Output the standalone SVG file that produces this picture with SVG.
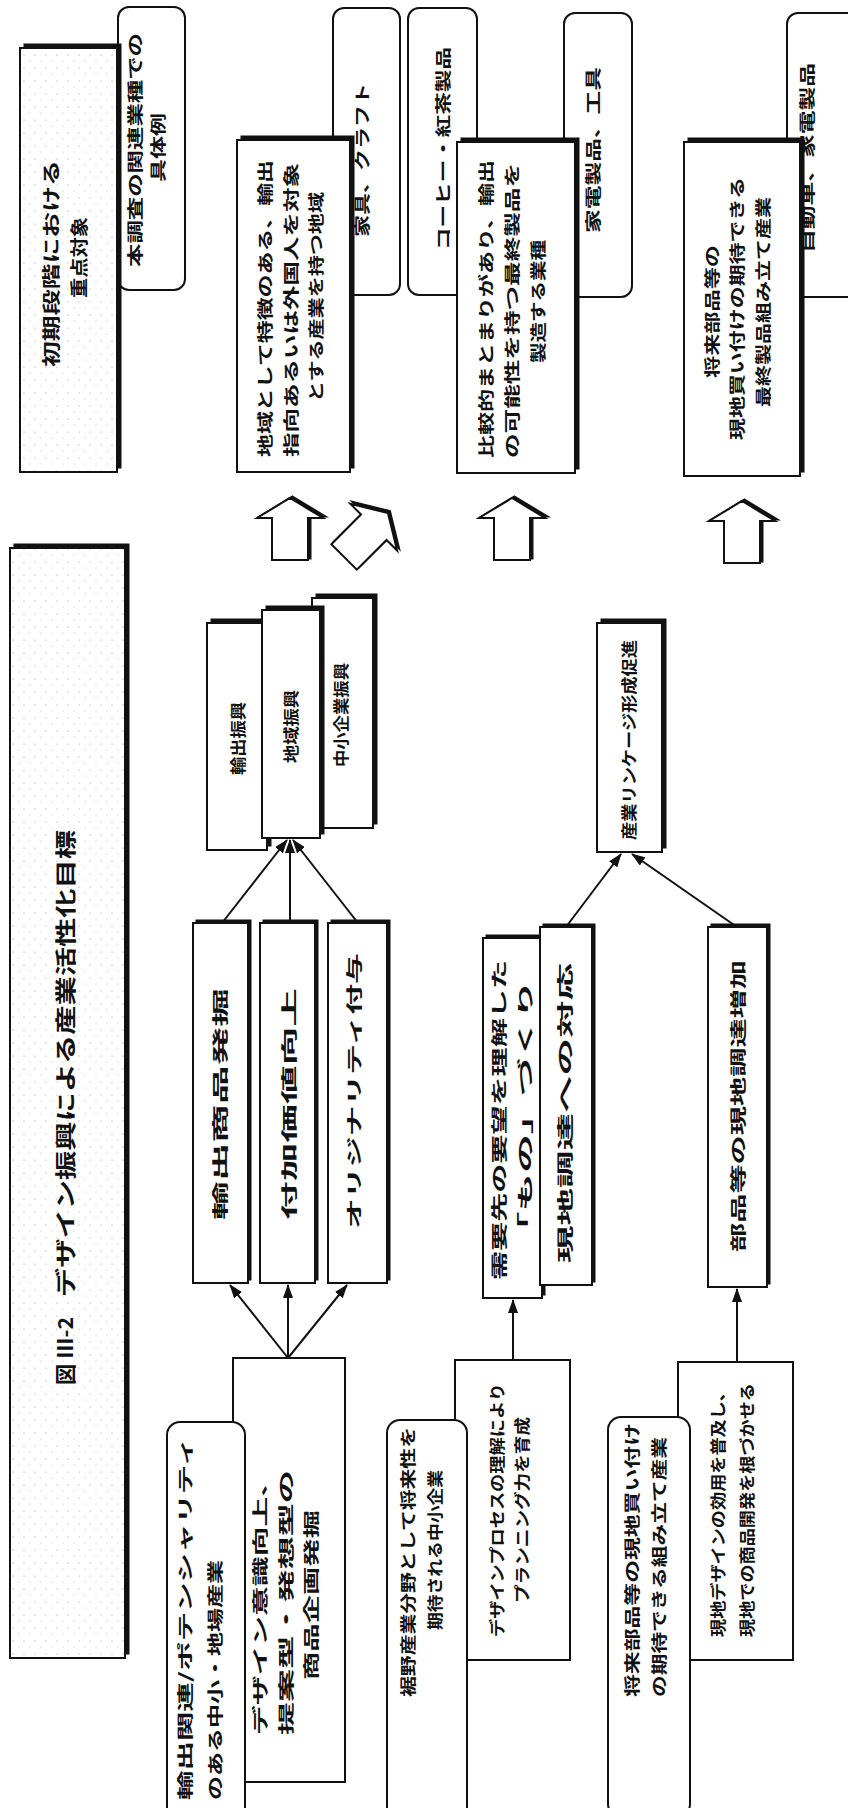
<svg xmlns="http://www.w3.org/2000/svg" xmlns:xlink="http://www.w3.org/1999/xlink" width="848" height="1808" viewBox="0 0 848 1808">
<style>
.t{font-family:'Noto Sans CJK JP','Noto Sans CJK SC',sans-serif;font-size:16px;font-weight:700;fill:#111;dominant-baseline:central;}
.tl{font-size:21px;}
.tm{font-size:18px;}
.bx{fill:#fff;stroke:#111;stroke-width:2;}
.sp{fill:url(#speck);stroke:#111;stroke-width:2;}
.sh{fill:#111;stroke:#111;stroke-width:1;}
.rb{fill:#fff;stroke:#111;stroke-width:2;}
.ln{fill:none;stroke:#111;stroke-width:2;marker-end:url(#ah);}
.blk{fill:#fff;stroke:#111;stroke-width:2;stroke-linejoin:miter;}
.bks{fill:#111;stroke:#111;stroke-width:2;}
</style>
<defs>
<pattern id="speck" width="11" height="13" patternUnits="userSpaceOnUse">
<rect width="11" height="13" fill="#fff"/>
<circle cx="2" cy="3" r="0.6" fill="#999"/>
<circle cx="8" cy="9" r="0.5" fill="#aaa"/>
</pattern>
<marker id="ah" markerUnits="userSpaceOnUse" markerWidth="14" markerHeight="10" refX="13" refY="5" orient="auto">
<path d="M0,0 L14,5 L0,10 Z" fill="#111"/>
</marker>
<path id="blkshape" d="M0,-31 L33,-11 L18,-11 L18,31 L-18,31 L-18,-11 L-33,-11 Z"/>
</defs>

<g id="n-title">
<rect class="sh" x="14" y="544" width="115" height="1110"/>
<rect class="sp" x="10" y="548" width="115" height="1110"/>
<text class="t tl" transform="translate(64,1385) rotate(-90)" textLength="68" lengthAdjust="spacingAndGlyphs">図 Ⅲ-2</text>
<text class="t tl" transform="translate(64,1297) rotate(-90)" textLength="467" lengthAdjust="spacingAndGlyphs">デザイン振興による産業活性化目標</text>
</g>

<g id="n-example">
<rect class="rb" x="118" y="7" width="67" height="283" rx="11"/>
<text class="t" transform="translate(134,267) rotate(-90)" textLength="234" lengthAdjust="spacingAndGlyphs">本調査の関連業種での</text>
<text class="t" transform="translate(157,182) rotate(-90)" textLength="69" lengthAdjust="spacingAndGlyphs">具体例</text>
</g>

<g id="n-focus">
<rect class="sh" x="24" y="44" width="97" height="424"/>
<rect class="sp" x="20" y="48" width="97" height="424"/>
<text class="t tm" transform="translate(50,367) rotate(-90)" textLength="207" lengthAdjust="spacingAndGlyphs">初期段階における</text>
<text class="t tm" transform="translate(78,298) rotate(-90)" textLength="81" lengthAdjust="spacingAndGlyphs">重点対象</text>
</g>

<g id="n-ex1">
<rect class="rb" x="333" y="8" width="67" height="287" rx="11"/>
<text class="t" transform="translate(361,237) rotate(-90)" textLength="154" lengthAdjust="spacingAndGlyphs">家具、クラフト</text>
</g>
<g id="n-ex2">
<rect class="rb" x="408" y="8" width="69" height="287" rx="11"/>
<text class="t" transform="translate(442,250) rotate(-90)" textLength="203" lengthAdjust="spacingAndGlyphs">コーヒー・紅茶製品</text>
</g>
<g id="n-ex3">
<rect class="rb" x="564" y="13" width="68" height="284" rx="11"/>
<text class="t" transform="translate(592,233) rotate(-90)" textLength="166" lengthAdjust="spacingAndGlyphs">家電製品、工具</text>
</g>
<g id="n-ex4">
<rect class="rb" x="787" y="13" width="75" height="284" rx="11"/>
<text class="t" transform="translate(806,253) rotate(-90)" textLength="190" lengthAdjust="spacingAndGlyphs">自動車、家電製品</text>
</g>

<g id="n-target1">
<rect class="sh" x="241" y="136" width="113" height="332"/>
<rect class="bx" x="237" y="140" width="113" height="332"/>
<text class="t" transform="translate(264,457) rotate(-90)" textLength="297" lengthAdjust="spacingAndGlyphs">地域として特徴のある、輸出</text>
<text class="t" transform="translate(290,457) rotate(-90)" textLength="294" lengthAdjust="spacingAndGlyphs">指向あるいは外国人を対象</text>
<text class="t" transform="translate(315,402) rotate(-90)" textLength="210" lengthAdjust="spacingAndGlyphs">とする産業を持つ地域</text>
</g>
<g id="n-target2">
<rect class="sh" x="461" y="138" width="118" height="331"/>
<rect class="bx" x="457" y="142" width="118" height="331"/>
<text class="t" transform="translate(485,458) rotate(-90)" textLength="298" lengthAdjust="spacingAndGlyphs">比較的まとまりがあり、輸出</text>
<text class="t" transform="translate(511,458) rotate(-90)" textLength="295" lengthAdjust="spacingAndGlyphs">の可能性を持つ最終製品を</text>
<text class="t" transform="translate(537,363) rotate(-90)" textLength="123" lengthAdjust="spacingAndGlyphs">製造する業種</text>
</g>
<g id="n-target3">
<rect class="sh" x="688" y="138" width="116" height="334"/>
<rect class="bx" x="684" y="142" width="116" height="334"/>
<text class="t" transform="translate(711,378) rotate(-90)" textLength="133" lengthAdjust="spacingAndGlyphs">将来部品等の</text>
<text class="t" transform="translate(736,440) rotate(-90)" textLength="263" lengthAdjust="spacingAndGlyphs">現地買い付けの期待できる</text>
<text class="t" transform="translate(762,407) rotate(-90)" textLength="210" lengthAdjust="spacingAndGlyphs">最終製品組み立て産業</text>
</g>

<g id="n-goal1">
<rect class="sh" x="211" y="619" width="60" height="227"/>
<rect class="bx" x="207" y="623" width="60" height="227"/>
<text class="t" transform="translate(237,775) rotate(-90)" textLength="73" lengthAdjust="spacingAndGlyphs">輸出振興</text>
</g>
<g id="n-goal3">
<rect class="sh" x="316" y="594" width="61" height="230"/>
<rect class="bx" x="312" y="598" width="61" height="230"/>
<text class="t" transform="translate(340,767) rotate(-90)" textLength="104" lengthAdjust="spacingAndGlyphs">中小企業振興</text>
</g>
<g id="n-goal2">
<rect class="sh" x="266" y="606" width="58" height="228"/>
<rect class="bx" x="262" y="610" width="58" height="228"/>
<text class="t" transform="translate(290,763) rotate(-90)" textLength="73" lengthAdjust="spacingAndGlyphs">地域振興</text>
</g>
<g id="n-goal4">
<rect class="sh" x="601" y="619" width="65" height="229"/>
<rect class="bx" x="597" y="623" width="65" height="229"/>
<text class="t" transform="translate(628,840) rotate(-90)" textLength="200" lengthAdjust="spacingAndGlyphs">産業リンケージ形成促進</text>
</g>

<g id="n-m1">
<rect class="sh" x="196" y="920" width="55" height="360"/>
<rect class="bx" x="193" y="923" width="55" height="360"/>
<text class="t" transform="translate(219,1220) rotate(-90)" textLength="232" lengthAdjust="spacingAndGlyphs">輸出商品発掘</text>
</g>
<g id="n-m2">
<rect class="sh" x="263" y="920" width="55" height="360"/>
<rect class="bx" x="260" y="923" width="55" height="360"/>
<text class="t" transform="translate(288,1220) rotate(-90)" textLength="232" lengthAdjust="spacingAndGlyphs">付加価値向上</text>
</g>
<g id="n-m3">
<rect class="sh" x="331" y="920" width="59" height="360"/>
<rect class="bx" x="328" y="923" width="59" height="360"/>
<text class="t" transform="translate(353,1229) rotate(-90)" textLength="276" lengthAdjust="spacingAndGlyphs">オリジナリティ付与</text>
</g>
<g id="n-m4">
<rect class="sh" x="486" y="935" width="59" height="360"/>
<rect class="bx" x="483" y="938" width="59" height="360"/>
<text class="t" transform="translate(498,1280) rotate(-90)" textLength="320" lengthAdjust="spacingAndGlyphs">需要先の要望を理解した</text>
<text class="t" transform="translate(524,1250) rotate(-90)" textLength="270" lengthAdjust="spacingAndGlyphs">「もの」づくり</text>
</g>
<g id="n-m5">
<rect class="sh" x="543" y="924" width="52" height="358"/>
<rect class="bx" x="540" y="927" width="52" height="358"/>
<text class="t" transform="translate(564,1263) rotate(-90)" textLength="300" lengthAdjust="spacingAndGlyphs">現地調達への対応</text>
</g>
<g id="n-m6">
<rect class="sh" x="711" y="924" width="59" height="360"/>
<rect class="bx" x="708" y="927" width="59" height="360"/>
<text class="t" transform="translate(737,1252) rotate(-90)" textLength="292" lengthAdjust="spacingAndGlyphs">部品等の現地調達増加</text>
</g>

<g id="n-s1">
<rect class="bx" x="233" y="1358" width="112" height="424"/>
<text class="t" transform="translate(259,1735) rotate(-90)" textLength="268" lengthAdjust="spacingAndGlyphs">デザイン意識向上、</text>
<text class="t" transform="translate(285,1735) rotate(-90)" textLength="265" lengthAdjust="spacingAndGlyphs">提案型・発想型の</text>
<text class="t" transform="translate(310,1680) rotate(-90)" textLength="170" lengthAdjust="spacingAndGlyphs">商品企画発掘</text>
</g>
<g id="n-l1">
<rect class="rb" x="167" y="1422" width="78" height="400" rx="13"/>
<text class="t" transform="translate(184,1800) rotate(-90)" textLength="363" lengthAdjust="spacingAndGlyphs">輸出関連/ポテンシャリティ</text>
<text class="t" transform="translate(214,1800) rotate(-90)" textLength="240" lengthAdjust="spacingAndGlyphs">のある中小・地場産業</text>
</g>

<g id="n-s2">
<rect class="bx" x="455" y="1360" width="115" height="300"/>
<text class="t" transform="translate(496,1637) rotate(-90)" textLength="254" lengthAdjust="spacingAndGlyphs">デザインプロセスの理解により</text>
<text class="t" transform="translate(521,1603) rotate(-90)" textLength="186" lengthAdjust="spacingAndGlyphs">プランニング力を育成</text>
</g>
<g id="n-l2">
<rect class="rb" x="387" y="1420" width="80" height="400" rx="13"/>
<text class="t" transform="translate(407,1697) rotate(-90)" textLength="270" lengthAdjust="spacingAndGlyphs">裾野産業分野として将来性を</text>
<text class="t" transform="translate(434,1630) rotate(-90)" textLength="160" lengthAdjust="spacingAndGlyphs">期待される中小企業</text>
</g>

<g id="n-s3">
<rect class="bx" x="678" y="1362" width="115" height="298"/>
<text class="t" transform="translate(717,1637) rotate(-90)" textLength="254" lengthAdjust="spacingAndGlyphs">現地デザインの効用を普及し、</text>
<text class="t" transform="translate(746,1637) rotate(-90)" textLength="254" lengthAdjust="spacingAndGlyphs">現地での商品開発を根づかせる</text>
</g>
<g id="n-l3">
<rect class="rb" x="608" y="1417" width="82" height="400" rx="13"/>
<text class="t" transform="translate(631,1697) rotate(-90)" textLength="274" lengthAdjust="spacingAndGlyphs">将来部品等の現地買い付け</text>
<text class="t" transform="translate(658,1697) rotate(-90)" textLength="260" lengthAdjust="spacingAndGlyphs">の期待できる組み立て産業</text>
</g>

<g id="connectors">
<line class="ln" x1="288" y1="1358" x2="230" y2="1285"/>
<line class="ln" x1="288" y1="1358" x2="288" y2="1285"/>
<line class="ln" x1="288" y1="1358" x2="347" y2="1285"/>
<line class="ln" x1="222" y1="923" x2="287" y2="840"/>
<line class="ln" x1="290" y1="923" x2="290" y2="840"/>
<line class="ln" x1="358" y1="923" x2="293" y2="840"/>
<line class="ln" x1="513" y1="1360" x2="513" y2="1300"/>
<line class="ln" x1="566" y1="927" x2="621" y2="854"/>
<line class="ln" x1="737" y1="927" x2="632" y2="854"/>
<line class="ln" x1="737" y1="1362" x2="737" y2="1289"/>
<use xlink:href="#blkshape" class="bks" transform="translate(292.5,527.5)"/>
<use xlink:href="#blkshape" class="blk" transform="translate(290,529)"/>
<use xlink:href="#blkshape" class="bks" transform="translate(368,533) rotate(45)"/>
<use xlink:href="#blkshape" class="blk" transform="translate(366,535) rotate(45)"/>
<use xlink:href="#blkshape" class="bks" transform="translate(514.5,527.5)"/>
<use xlink:href="#blkshape" class="blk" transform="translate(512,529)"/>
<use xlink:href="#blkshape" class="bks" transform="translate(744.5,530.5)"/>
<use xlink:href="#blkshape" class="blk" transform="translate(742,532)"/>
</g>
</svg>
